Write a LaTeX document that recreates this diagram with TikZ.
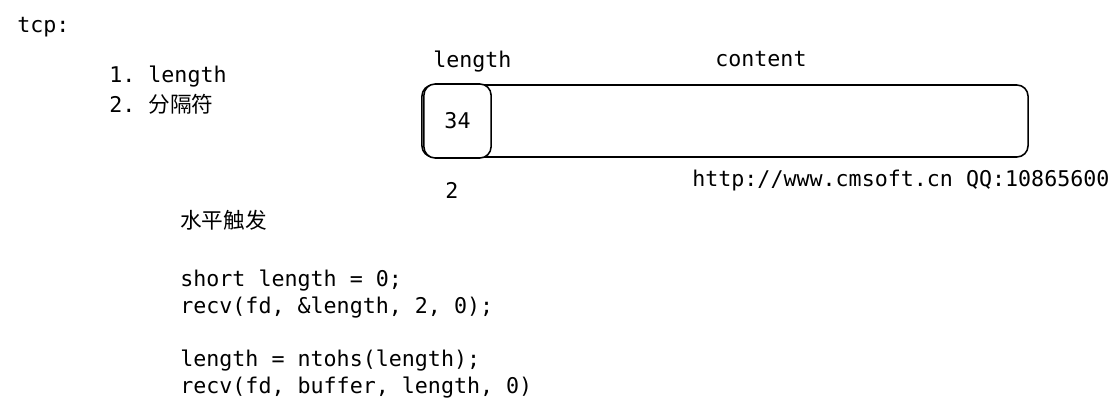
\documentclass[tikz,border=0pt]{standalone}
\usepackage{fontspec}
\setmonofont{DejaVu Sans Mono}
\newfontfamily\cjk{Noto Sans CJK SC}
\usetikzlibrary{positioning}

\tikzset{
  txt/.style={anchor=base west, inner sep=0pt, font=\ttfamily\fontsize{15.4}{19}\selectfont},
  field/.style={draw, line width=1.1pt, rounded corners=8pt, inner sep=0pt, font=\ttfamily\fontsize{15.4}{19}\selectfont},
}

\begin{document}
\begin{tikzpicture}[x=0.025cm, y=-0.025cm]
\useasboundingbox (0,0) rectangle (1120,411);

\node [txt] (tcp) at (17,33) {tcp:};
\node [txt] (opt1) at (109,83) {1. length};
\node [txt] (opt2) at (109,113) {2. {\cjk 分隔符}};

% packet
\node [field, minimum width=15.15cm, minimum height=1.8cm] (msg) at (725,121) {};
\node [field, fill=white, minimum width=1.68cm, minimum height=1.85cm] (len) at (457.5,121) {34};

\node [txt] (lenlabel) at (433,68) {length};
\node [txt] (contentlabel) at (715,67) {content};
\node [txt] (lensize) at (445,199) {2};

\node [txt] (url) at (692,187) {http://www.cmsoft.cn QQ:10865600};

\node [txt] (mode) at (180,229) {\cjk 水平触发};

\node [txt] (code1) at (180,287) {short length = 0;};
\node [txt] (code2) at (180,314) {recv(fd, \&length, 2, 0);};
\node [txt] (code3) at (180,367) {length = ntohs(length);};
\node [txt] (code4) at (180,394) {recv(fd, buffer, length, 0)};

\end{tikzpicture}
\end{document}
